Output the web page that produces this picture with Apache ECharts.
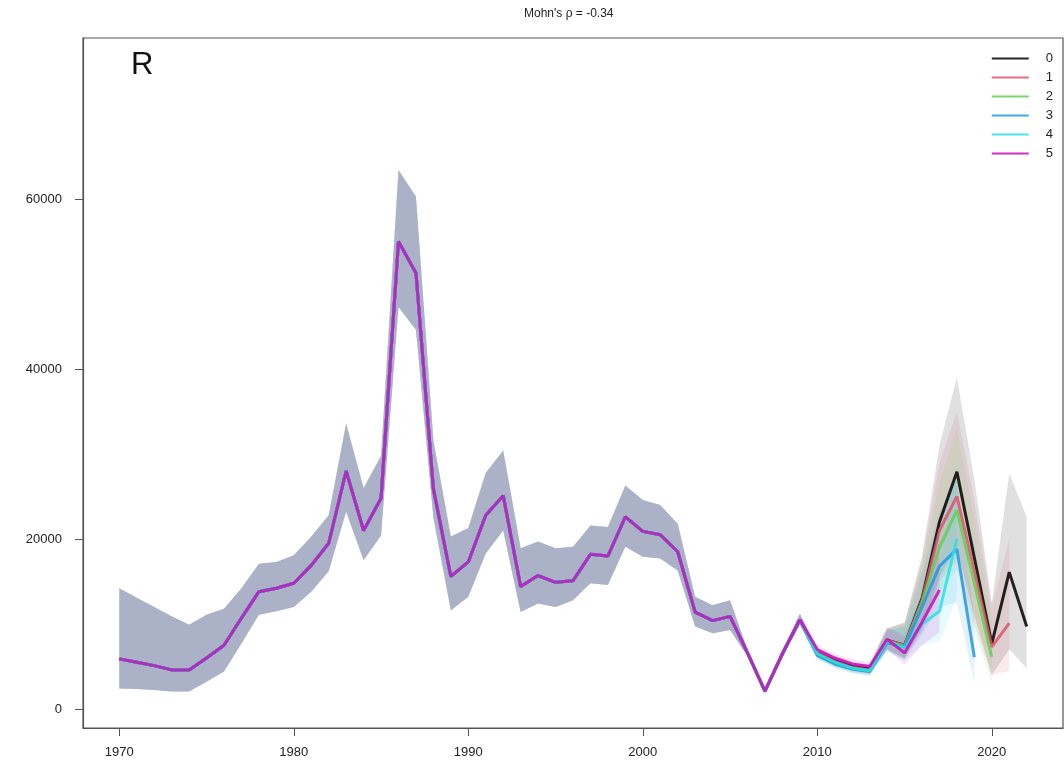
<!DOCTYPE html>
<html><head><meta charset="utf-8">
<script src="https://cdn.jsdelivr.net/npm/echarts@6/dist/echarts.min.js"></script>
<style>html,body{margin:0;padding:0;background:#fff}#c{width:1064px;height:776px}</style>
</head><body><div id="c"></div>
<script>
// ---- data ----
const firstYear = 1970;
const xTicks = [1970, 1980, 1990, 2000, 2010, 2020];
const yTicks = [0, 20000, 40000, 60000];
const peelNames = ['0', '1', '2', '3', '4', '5'];
const peelColors = ['#000000', '#DF536B', '#61D04F', '#2297E6', '#28E2E5', '#CD0BBC'];
const titleText = "Mohn's \u03c1 = -0.34";
const panelLabel = 'R';

// shared history 1970-2009
const baseLine = [5900, 5500, 5100, 4600, 4600, 6000, 7500, 10700, 13800, 14200,
  14800, 16900, 19500, 28000, 21000, 24800, 55000, 51300, 25900, 15600,
  17300, 22800, 25100, 14400, 15700, 14900, 15100, 18200, 18000, 22600,
  20900, 20500, 18500, 11400, 10400, 10900, 6600, 2100, 6500, 10500];
const baseLow = [2400, 2350, 2250, 2050, 2050, 3200, 4400, 7700, 11100, 11500,
  12000, 13800, 16200, 23200, 17500, 20400, 47300, 44600, 22500, 11600,
  13200, 18300, 21000, 11400, 12400, 12000, 12800, 14800, 14600, 19100,
  17900, 17700, 16300, 9700, 8900, 9300, 6200, 1800, 6100, 9900];
const baseHigh = [14200, 13100, 12000, 10900, 9900, 11100, 11800, 14200, 17100, 17300,
  18100, 20300, 22800, 33600, 26000, 29800, 63400, 60300, 31600, 20300,
  21300, 27800, 30400, 18900, 19700, 18900, 19100, 21600, 21400, 26300,
  24600, 24000, 21800, 13200, 12200, 12800, 7000, 2400, 6900, 11200];

// peel-specific values from 2010 onward
const tailLine0 = [6600, 5700, 5000, 4700, 8100, 7500, 13000, 22000, 27900, 17800, 7700, 16100, 9700];
const tailLow0  = [6100, 5200, 4500, 4200, 7000, 6000, 9500, 15500, 19000, 11000, 4000, 7000, 4800];
const tailHigh0 = [7100, 6200, 5500, 5200, 9500, 10200, 18000, 31000, 39000, 27000, 12500, 27700, 22600];

const tailLine1 = [6600, 5600, 4900, 4600, 8100, 7500, 12800, 21000, 25000, 16200, 7300, 10100];
const tailLow1  = [6100, 5100, 4400, 4100, 7000, 6000, 9300, 15000, 17500, 10000, 4000, 4500];
const tailHigh1 = [7100, 6100, 5400, 5100, 9500, 10100, 17500, 29000, 35000, 24500, 12000, 20000];

const tailLine2 = [6400, 5400, 4800, 4500, 8000, 7400, 12500, 19000, 23400, 14800, 6100];
const tailLow2  = [5900, 4900, 4300, 4000, 6900, 5900, 9000, 13800, 16500, 9000, 3200];
const tailHigh2 = [6900, 5900, 5300, 5000, 9400, 10000, 17000, 26500, 33000, 22500, 10500];

const tailLine3 = [6300, 5300, 4700, 4400, 7800, 7300, 12000, 16800, 18800, 6100];
const tailLow3  = [5800, 4800, 4200, 3900, 6700, 5800, 8800, 12000, 12500, 3000];
const tailHigh3 = [6800, 5800, 5200, 4900, 9200, 9800, 16000, 23000, 27000, 11000];

const tailLine4 = [6500, 5500, 4800, 4500, 8000, 7200, 10000, 11500, 20000];
const tailLow4  = [6000, 5000, 4300, 4000, 6900, 5700, 7500, 8000, 13000];
const tailHigh4 = [7000, 6000, 5300, 5000, 9400, 9500, 13500, 16500, 29000];

const tailLine5 = [7000, 6000, 5300, 5000, 8200, 6600, 10200, 14000];
const tailLow5  = [6500, 5500, 4800, 4500, 7100, 5200, 7500, 9000];
const tailHigh5 = [7500, 6500, 5800, 5500, 9600, 8600, 13500, 20000];

// ---- build ----
const tails = [
  [tailLine0, tailLow0, tailHigh0],
  [tailLine1, tailLow1, tailHigh1],
  [tailLine2, tailLow2, tailHigh2],
  [tailLine3, tailLow3, tailHigh3],
  [tailLine4, tailLow4, tailHigh4],
  [tailLine5, tailLow5, tailHigh5]
];
function toPairs(arr) { return arr.map((v, i) => [firstYear + i, v]); }
function hexA(hex, a) {
  const n = parseInt(hex.slice(1), 16);
  return 'rgba(' + ((n >> 16) & 255) + ',' + ((n >> 8) & 255) + ',' + (n & 255) + ',' + a + ')';
}

const series = [];
tails.forEach((t, k) => {
  const low = baseLow.concat(t[1]);
  const high = baseHigh.concat(t[2]);
  series.push({
    type: 'custom', silent: true, z: 1, data: [[firstYear, 0]],
    renderItem: function (params, api) {
      const pts = [];
      for (let i = 0; i < high.length; i++) pts.push(api.coord([firstYear + i, high[i]]));
      for (let i = low.length - 1; i >= 0; i--) pts.push(api.coord([firstYear + i, low[i]]));
      return { type: 'polygon', shape: { points: pts }, style: { fill: hexA(peelColors[k], 0.12) } };
    }
  });
});
tails.forEach((t, k) => {
  series.push({
    type: 'line', name: peelNames[k], z: 5 + k,
    data: toPairs(baseLine.concat(t[0])),
    symbol: 'none', showSymbol: false,
    lineStyle: { color: hexA(peelColors[k], 0.85), width: 3 },
    itemStyle: { color: hexA(peelColors[k], 0.85) },
    animation: false
  });
});

const font = "'Liberation Sans', Arial, Helvetica, sans-serif";
const plain = v => String(Math.round(v));
const chart = echarts.init(document.getElementById('c'), null, { renderer: 'canvas' });
chart.setOption({
  animation: false,
  backgroundColor: '#ffffff',
  grid: { left: 83, right: 1, top: 38, bottom: 48, show: true, borderColor: '#555', borderWidth: 1.2, backgroundColor: 'transparent' },
  xAxis: {
    type: 'value', min: 1967.92, max: 2024.08,
    splitLine: { show: false },
    axisLine: { show: true, onZero: false, lineStyle: { color: '#555', width: 1.2 } },
    axisTick: { show: true, length: 8, lineStyle: { color: '#555' }, customValues: xTicks },
    axisLabel: { customValues: xTicks, formatter: plain, margin: 18, color: '#222', fontSize: 13, fontFamily: font }
  },
  yAxis: {
    type: 'value', min: -2235, max: 78940,
    splitLine: { show: false },
    axisLine: { show: true, onZero: false, lineStyle: { color: '#555', width: 1.2 } },
    axisTick: { show: true, length: 8, lineStyle: { color: '#555' }, customValues: yTicks },
    axisLabel: { customValues: yTicks, formatter: plain, margin: 21, color: '#222', fontSize: 13, fontFamily: font }
  },
  legend: {
    data: peelNames, orient: 'vertical', right: 6, top: 47,
    itemWidth: 37, itemHeight: 12, itemGap: 6,
    itemStyle: { opacity: 0 },
    lineStyle: { width: 2.2 },
    textStyle: { color: '#222', fontSize: 13, fontFamily: font, padding: [0, 0, 0, 12] },
    selectedMode: false
  },
  graphic: [
    { type: 'text', left: 524, top: 8, style: { text: titleText, fontSize: 12, fontFamily: font, fill: '#222' } },
    { type: 'text', left: 131, top: 50, style: { text: panelLabel, fontSize: 31, fontFamily: font, fill: '#111' } }
  ],
  series: series
});
</script>
</body></html>
